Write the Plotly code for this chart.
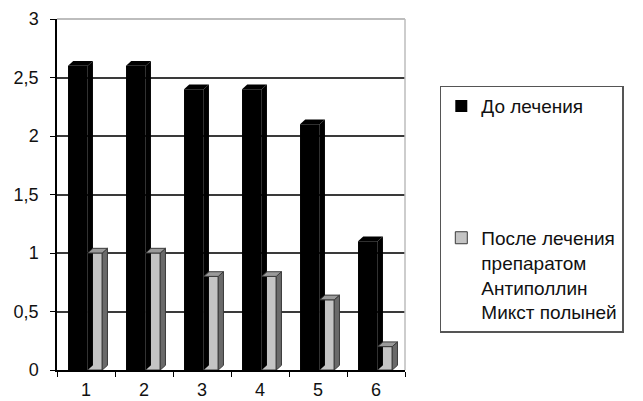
import plotly.graph_objects as go

categories = [1, 2, 3, 4, 5, 6]
tick_labels = ["1", "2", "3", "4", "5", "6"]
before = [2.6, 2.6, 2.4, 2.4, 2.1, 1.1]
after = [1.0, 1.0, 0.8, 0.8, 0.6, 0.2]
name_before = "До лечения"
name_after = "После лечения<br>препаратом<br>Антиполлин<br>Микст полыней"

FONT = "Liberation Sans, Arial, sans-serif"

# bar geometry (in category units)
B_OFF, B_W = -0.31, 0.34
A_OFF, A_W = 0.03, 0.25
DX, DY = 0.09, 0.04  # 3D depth

fig = go.Figure()
fig.add_trace(go.Bar(x=categories, y=before, name=name_before, legendgroup="a",
                     offset=B_OFF, width=B_W,
                     marker=dict(color="#000000", line=dict(color="#000000", width=0))))
fig.add_trace(go.Bar(x=categories, y=after, name=name_after, legendgroup="b",
                     offset=A_OFF, width=A_W,
                     marker=dict(color="#c4c4c4", line=dict(color="#3a3a3a", width=1))))

shapes = []
def depth(xc, v, off, w, side_col, top_col, line_col, lw):
    x0 = xc + off
    x1 = x0 + w
    side = f"M {x1} 0 L {x1+DX} {DY} L {x1+DX} {v+DY} L {x1} {v} Z"
    top = f"M {x0} {v} L {x1} {v} L {x1+DX} {v+DY} L {x0+DX} {v+DY} Z"
    for p, c in ((side, side_col), (top, top_col)):
        shapes.append(dict(type="path", path=p, xref="x", yref="y", fillcolor=c,
                           line=dict(color=line_col, width=lw), layer="above"))

for xc, v in zip(categories, before):
    depth(xc, v, B_OFF, B_W, "#000000", "#000000", "#000000", 0)
for xc, v in zip(categories, after):
    depth(xc, v, A_OFF, A_W, "#6a6a6a", "#9a9a9a", "#3a3a3a", 1)

# light grey back-wall frame (top and right)
shapes.append(dict(type="line", xref="paper", yref="paper", x0=0, x1=1, y0=1, y1=1,
                   line=dict(color="#bdbdbd", width=2), layer="above"))
shapes.append(dict(type="line", xref="paper", yref="paper", x0=1, x1=1, y0=0, y1=1,
                   line=dict(color="#bdbdbd", width=1.5), layer="above"))

fig.update_layout(
    width=643, height=401,
    margin=dict(l=57, r=238, t=19, b=31),
    paper_bgcolor="white", plot_bgcolor="white",
    separators=", ",
    barmode="overlay",
    font=dict(family=FONT, size=18, color="#111111"),
    shapes=shapes,
    showlegend=True,
    legend=dict(x=1.10, xanchor="left", y=0.81, yanchor="top",
                bordercolor="#555555", borderwidth=1.5,
                traceorder="grouped", tracegroupgap=104, valign="top",
                font=dict(family=FONT, size=19, color="#111111")),
    xaxis=dict(range=[0.5, 6.5], tickvals=categories, ticktext=tick_labels,
               ticks="", showgrid=False, showline=True, linecolor="#000000", linewidth=1.5,
               zeroline=False, ticklabelstandoff=3, automargin=False,
               minor=dict(tick0=0.5, dtick=1, ticks="outside", ticklen=5,
                          tickcolor="#000000", showgrid=False),
               tickfont=dict(size=18)),
    yaxis=dict(range=[0, 3], dtick=0.5, ticks="outside", ticklen=5, tickcolor="#000000",
               showline=True, linecolor="#000000", linewidth=1.5, automargin=False,
               showgrid=True, gridcolor="#3a3a3a", gridwidth=1.5, zeroline=False,
               tickfont=dict(size=18), ticklabelstandoff=8),
)

fig.write_html("out.html", config={"displayModeBar": False},
               post_script="document.body.style.margin='0';")
